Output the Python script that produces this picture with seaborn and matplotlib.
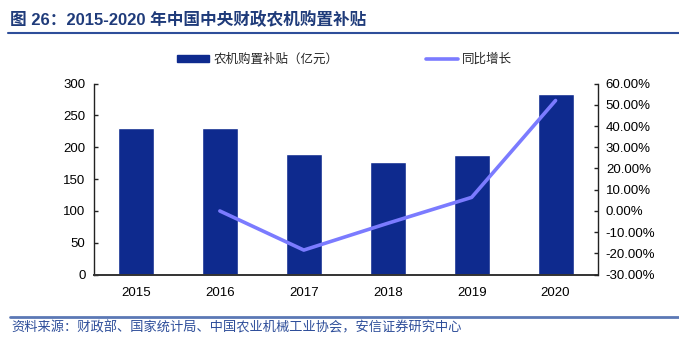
import numpy as np
import pandas as pd
import matplotlib
matplotlib.use("Agg")
import matplotlib.pyplot as plt
from matplotlib.lines import Line2D
from matplotlib.patches import Patch
from matplotlib.ticker import FixedLocator, FuncFormatter
import seaborn as sns

years = ["2015", "2016", "2017", "2018", "2019", "2020"]
subsidy = [230, 230, 190, 177, 188, 283]           # 亿元
growth_years = ["2016", "2017", "2018", "2019", "2020"]
growth = [0.0, -18.4, -5.8, 6.4, 52.0]             # %

title = "图 26：2015-2020 年中国中央财政农机购置补贴"
bar_label = "农机购置补贴（亿元）"
line_label = "同比增长"
source = "资料来源：财政部、国家统计局、中国农业机械工业协会，安信证券研究中心"

sns.set_theme(style="white")
plt.rcParams['font.family'] = ['Liberation Sans', 'Noto Sans CJK SC', 'DejaVu Sans']

BAR = "#0E2A8E"
LINE = "#7B7BFF"
TITLE_C = "#1F3B7A"

fig = plt.figure(figsize=(6.79, 3.48), dpi=100)
ax = fig.add_axes([0.1384, 0.2106, 0.880 - 0.1384, 0.760 - 0.2106])

df = pd.DataFrame({"year": years, "subsidy": subsidy})
sns.barplot(data=df, x="year", y="subsidy", order=years, color=BAR,
            saturation=1, width=0.43, ax=ax)
ax.set_xlim(-0.5, len(years) - 0.5)
ax.set_ylim(0, 300)
ax.set_yticks(np.arange(0, 301, 50))
ax.set_xlabel("")
ax.set_ylabel("")

ax2 = ax.twinx()
pos = [years.index(y) for y in growth_years]
gdf = pd.DataFrame({"pos": pos, "growth": growth})
sns.lineplot(data=gdf, x="pos", y="growth", color=LINE, linewidth=2.6,
             ax=ax2, legend=False)
ax2.set_ylim(-30, 60)
ax2.set_yticks(np.arange(-30, 61, 10))
ax2.yaxis.set_major_formatter(FuncFormatter(lambda v, p: f"{v:.2f}%"))
ax2.set_ylabel("")
ax2.set_xlim(-0.5, len(years) - 0.5)

for a in (ax, ax2):
    for s in a.spines.values():
        s.set_color("#222222")
        s.set_linewidth(1.0)
    a.spines["top"].set_visible(False)
ax.spines["right"].set_visible(False)
ax2.spines["left"].set_visible(False)
ax2.spines["bottom"].set_visible(False)
ax.spines["bottom"].set_linewidth(1.4)
ax.spines["bottom"].set_color("#333333")

ax.tick_params(axis="y", direction="in", length=3, width=1, labelsize=9.5,
               pad=6, colors="#222222", labelcolor="black")
ax2.tick_params(axis="y", direction="in", length=3, width=1, labelsize=9.5,
                pad=6, colors="#222222", labelcolor="black")
ax.tick_params(axis="x", which="major", length=0, labelsize=9.5, pad=9,
               labelcolor="black")
ax.xaxis.set_minor_locator(FixedLocator(np.arange(0.5, len(years) - 1, 1.0)))
ax.tick_params(axis="x", which="minor", direction="in", length=3, width=1,
               colors="#222222")
ax.grid(False)
ax2.grid(False)

handles = [Patch(facecolor=BAR, edgecolor=BAR),
           Line2D([0], [0], color=LINE, linewidth=2.6)]
fig.legend(handles, [bar_label, line_label], loc="center left",
           bbox_to_anchor=(0.244, 0.829), ncol=2, frameon=False,
           handlelength=2.6, handleheight=0.55,
           columnspacing=7.0, handletextpad=0.3,
           prop={'family': ['Noto Sans CJK SC'], 'size': 9})

fig.text(0.014, 0.943, title, fontsize=12, fontweight="bold", color=TITLE_C,
         va="center", ha="left",
         family=['Liberation Sans', 'Noto Sans CJK SC'])
fig.add_artist(Line2D([0.012, 1.0], [0.905, 0.905], color="#2E4E9A",
                      linewidth=1.5, transform=fig.transFigure))
fig.add_artist(Line2D([0.014, 1.0], [0.089, 0.089], color="#5B78B5",
                      linewidth=2.0, transform=fig.transFigure))
fig.text(0.016, 0.058, source, fontsize=9.5, color="#2E4E9A", style="italic",
         va="center", ha="left", family=['Noto Sans CJK SC'])

fig.savefig("out.png", dpi=100)
